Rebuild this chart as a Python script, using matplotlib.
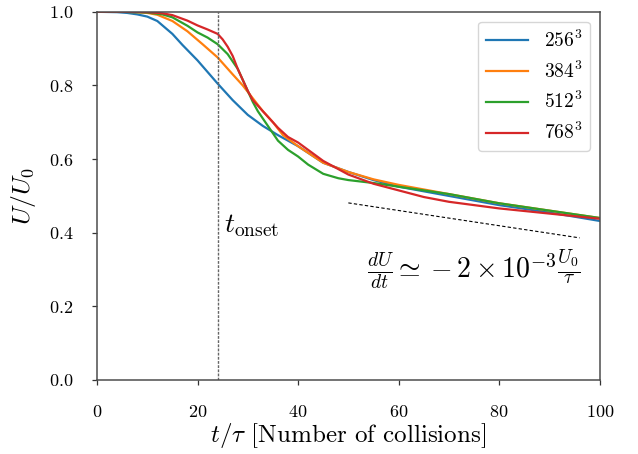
import matplotlib
matplotlib.use('Agg')
import matplotlib.pyplot as plt

# energy decay U/U0 vs collision count for each resolution
t_256 = [0, 4, 6, 8, 10, 12, 15, 17, 20, 24, 27, 30, 33, 36, 40, 45, 50, 55, 60, 70, 80, 90, 100]
u_256 = [1.0, 0.999, 0.997, 0.993, 0.987, 0.975, 0.94, 0.91, 0.868, 0.805, 0.76, 0.72, 0.69,
         0.665, 0.635, 0.59, 0.565, 0.543, 0.525, 0.50, 0.475, 0.455, 0.432]

t_384 = [0, 5, 8, 10, 12, 15, 18, 21, 24, 27, 29, 31, 33, 35, 37, 40, 45, 50, 55, 60, 70, 80,
         90, 100]
u_384 = [1.0, 1.0, 0.999, 0.997, 0.992, 0.975, 0.947, 0.912, 0.876, 0.83, 0.80, 0.765, 0.73,
         0.70, 0.665, 0.635, 0.59, 0.565, 0.545, 0.53, 0.505, 0.48, 0.46, 0.44]

t_512 = [0, 5, 10, 13, 15, 18, 20, 22, 24, 26, 28, 29, 30, 31, 32, 34, 36, 38, 40, 42, 45, 48,
         50, 55, 60, 70, 80, 90, 100]
u_512 = [1.0, 1.0, 0.998, 0.993, 0.985, 0.962, 0.944, 0.93, 0.912, 0.885, 0.845, 0.815, 0.785,
         0.755, 0.73, 0.69, 0.65, 0.625, 0.607, 0.585, 0.56, 0.548, 0.543, 0.535, 0.525, 0.505,
         0.48, 0.46, 0.44]

t_768 = [0, 5, 10, 13, 15, 18, 20, 22, 24, 25, 26, 27, 28, 29, 30, 31, 32, 34, 36, 38, 40, 42,
         45, 50, 55, 60, 65, 70, 80, 90, 100]
u_768 = [1.0, 1.0, 0.999, 0.996, 0.991, 0.976, 0.963, 0.952, 0.94, 0.925, 0.905, 0.88, 0.845,
         0.815, 0.785, 0.76, 0.745, 0.715, 0.685, 0.66, 0.645, 0.625, 0.595, 0.558, 0.533,
         0.515, 0.497, 0.484, 0.466, 0.452, 0.438]

labels = [r'$256^3$', r'$384^3$', r'$512^3$', r'$768^3$']
t_onset = 24
slope_t = [50, 96]
slope_u = [0.481, 0.386]

plt.rcParams['font.family'] = 'serif'
plt.rcParams['font.serif'] = ['cmr10']
plt.rcParams['mathtext.fontset'] = 'cm'
plt.rcParams['axes.formatter.use_mathtext'] = True

fig = plt.figure(figsize=(6.38, 4.54), dpi=100)
ax = fig.add_axes([0.152, 0.163, 0.788, 0.811])

for t, u, lab in zip([t_256, t_384, t_512, t_768], [u_256, u_384, u_512, u_768], labels):
    ax.plot(t, u, lw=1.6, label=lab)

ax.axvline(t_onset, color='0.4', lw=1.0, ls=(0, (2, 1)))
ax.text(25.3, 0.42, r'$t_{\rm onset}$', fontsize=20, va='center')
ax.plot(slope_t, slope_u, color='k', lw=0.8, ls=(0, (3, 2)))
ax.text(75, 0.30, r'$\frac{dU}{dt} \simeq -2 \times 10^{-3} \frac{U_0}{\tau}$',
        fontsize=20, ha='center', va='center')

ax.set_xlim(0, 100)
ax.set_ylim(0, 1.0)
ax.set_xticks([0, 20, 40, 60, 80, 100])
ax.set_yticks([0.0, 0.2, 0.4, 0.6, 0.8, 1.0])
ax.tick_params(labelsize=13, pad=13.5, length=3.6, width=0.9, color='0.2')
for s in ax.spines.values():
    s.set_color('0.3')
    s.set_linewidth(1.1)

ax.set_xlabel(r'$t/\tau$ [Number of collisions]', fontsize=18, labelpad=1)
ax.set_ylabel(r'$U/U_0$', fontsize=18.5, labelpad=8)
ax.legend(loc='upper right', fontsize=14, handlelength=2.2)

fig.savefig('out.png', dpi=100)
